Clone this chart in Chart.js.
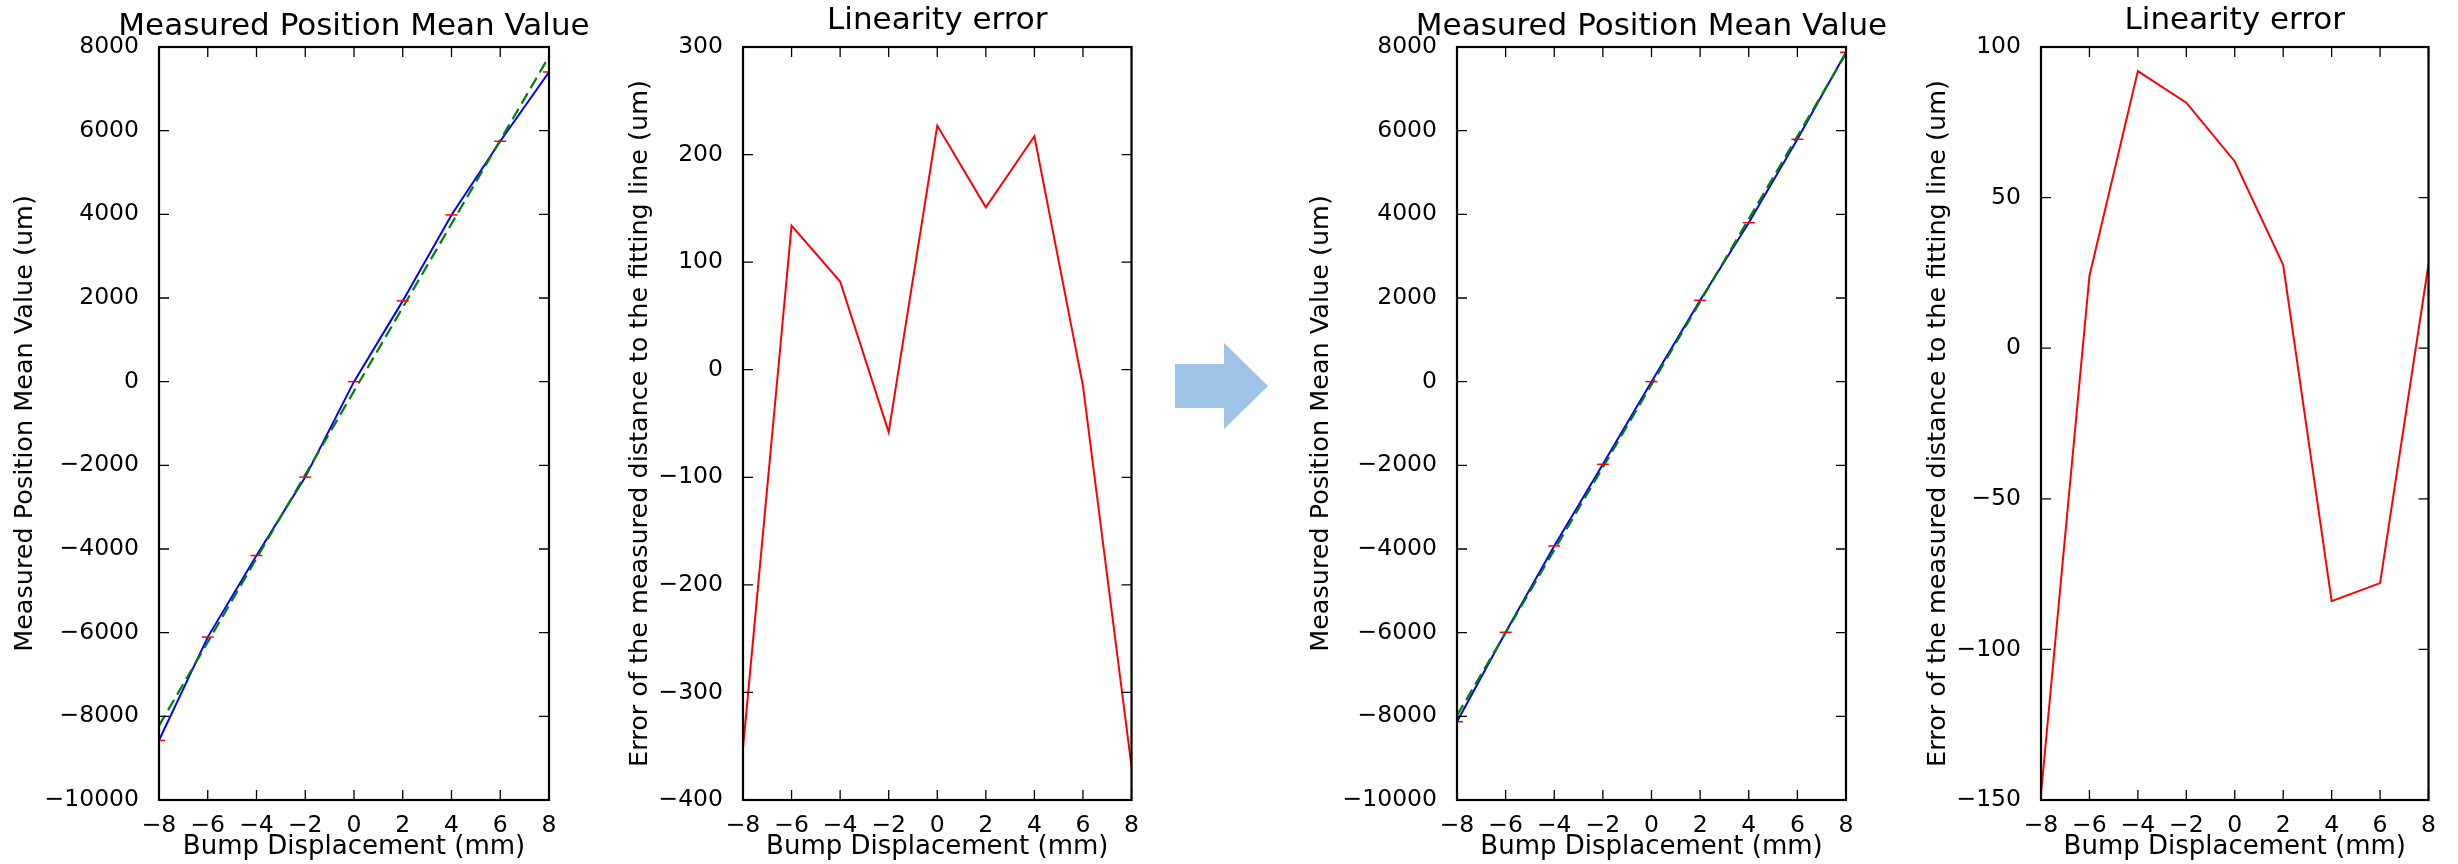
<!DOCTYPE html>
<html>
<head>
<meta charset="utf-8">
<script src="https://cdn.jsdelivr.net/npm/chart.js@4.4.0/dist/chart.umd.min.js"></script>
<style>
  body { margin: 0; background: #fff; width: 2458px; height: 864px; overflow: hidden; position: relative; }
  .panel { position: absolute; top: 0; }
  #arrow { position: absolute; left: 0; top: 0; }
</style>
</head>
<body>
<div class="panel" style="left:0px"><canvas id="posBefore" width="604" height="864"></canvas></div>
<div class="panel" style="left:615px"><canvas id="errBefore" width="528" height="864"></canvas></div>
<svg id="arrow" width="2458" height="864">
  <polygon points="1175,364 1224,364 1224,343 1268,386 1224,429 1224,408 1175,408" fill="#9dc3e6"/>
</svg>
<div class="panel" style="left:1296px"><canvas id="posAfter" width="600" height="864"></canvas></div>
<div class="panel" style="left:1912px"><canvas id="errAfter" width="528" height="864"></canvas></div>
<script>
// bump displacement (mm)
const displacement = [-8, -6, -4, -2, 0, 2, 4, 6, 8];

// before correction
const measuredBefore = [-8576, -6106, -4155, -2282, 0, 1931, 3986, 5747, 7403];
const fitEnds = [-8, 8];
const fitBefore = [-8224, 7772];
const errorBefore = [-352, 134, 82, -58, 227, 151, 217, -15, -369];

// after correction
const measuredAfter = [-8128, -5991, -3928, -1975, 0, 1945, 3800, 5793, 7873];
const fitAfter = [-7980, 7845];
const errorAfter = [-148, 24, 92, 81.5, 62, 27.6, -84, -78, 28];

const FONT = '"DejaVu Sans", sans-serif';

function pts(xs, ys) {
    return xs.map((x, i) => ({ x: x, y: ys[i] }));
}

function minus(v) {
    return String(v).replace('-', '\u2212');
}

// matplotlib-like box: frame, inward ticks on all sides, title over the axes
const frame = {
    id: 'frame',
    afterDatasetsDraw(chart, args, opts) {
        const { ctx, chartArea: a, scales: { x, y } } = chart;
        ctx.save();
        ctx.strokeStyle = '#000';
        ctx.lineWidth = 1.3;
        ctx.beginPath();
        x.ticks.forEach(t => {
            const px = x.getPixelForValue(t.value);
            ctx.moveTo(px, a.bottom); ctx.lineTo(px, a.bottom - 10);
            ctx.moveTo(px, a.top); ctx.lineTo(px, a.top + 10);
        });
        y.ticks.forEach(t => {
            const py = y.getPixelForValue(t.value);
            ctx.moveTo(a.left, py); ctx.lineTo(a.left + 10, py);
            ctx.moveTo(a.right, py); ctx.lineTo(a.right - 10, py);
        });
        ctx.stroke();
        ctx.lineWidth = 2.2;
        ctx.strokeRect(a.left, a.top, a.right - a.left, a.bottom - a.top);
        ctx.fillStyle = '#000';
        ctx.font = '31px ' + FONT;
        ctx.textAlign = 'center';
        ctx.textBaseline = 'alphabetic';
        ctx.fillText(opts.text, (a.left + a.right) / 2, opts.baseline);
        ctx.restore();
    }
};

function makeChart(id, datasets, cfg) {
    return new Chart(document.getElementById(id), {
        type: 'scatter',
        data: { datasets: datasets },
        plugins: [frame],
        options: {
            responsive: false,
            animation: false,
            devicePixelRatio: 1,
            layout: { padding: { left: 0, right: cfg.padRight, top: 47, bottom: 0 } },
            plugins: {
                legend: { display: false },
                tooltip: { enabled: false },
                frame: { text: cfg.title, baseline: cfg.titleBaseline }
            },
            scales: {
                x: {
                    type: 'linear',
                    min: -8, max: 8,
                    grid: { display: false },
                    border: { display: false },
                    ticks: { stepSize: 2, padding: 4, color: '#000', font: { family: FONT, size: 23.5 },
                             maxRotation: 0, autoSkip: false, callback: v => minus(v) },
                    title: { display: true, text: 'Bump Displacement (mm)', color: '#000',
                             font: { family: FONT, size: 26 }, padding: { top: 0, bottom: 1 } },
                    afterFit: s => { s.height = 64; }
                },
                y: {
                    type: 'linear',
                    min: cfg.yMin, max: cfg.yMax,
                    grid: { display: false },
                    border: { display: false },
                    ticks: { stepSize: cfg.yStep, padding: 12, color: '#000', font: { family: FONT, size: 23.5 },
                             autoSkip: false, callback: v => minus(v) },
                    title: { display: true, text: cfg.yTitle, color: '#000',
                             font: { family: FONT, size: 25.5 }, padding: { top: cfg.yTitlePad, bottom: 0 } },
                    afterFit: s => { s.width = cfg.yWidth; }
                }
            }
        }
    });
}

function positionSets(measured, fit) {
    return [
        { data: pts(displacement, measured), showLine: false, pointStyle: 'line', pointRadius: 6,
          borderColor: '#ff0000', borderWidth: 1.5, backgroundColor: '#ff0000' },
        { data: pts(fitEnds, fit), showLine: true, borderColor: '#008000', borderWidth: 2.2,
          borderDash: [12, 6], pointRadius: 0 },
        { data: pts(displacement, measured), showLine: true, borderColor: '#0000ff', borderWidth: 2,
          pointRadius: 0 }
    ];
}

function errorSets(err) {
    return [
        { data: pts(displacement, err), showLine: true, borderColor: '#ff0000', borderWidth: 2,
          pointRadius: 0 }
    ];
}

makeChart('posBefore', positionSets(measuredBefore, fitBefore), {
    yMin: -10000, yMax: 8000, yStep: 2000, yWidth: 159, yTitlePad: 10, padRight: 55,
    yTitle: 'Measured Position Mean Value (um)', title: 'Measured Position Mean Value', titleBaseline: 35
});
makeChart('errBefore', errorSets(errorBefore), {
    yMin: -400, yMax: 300, yStep: 100, yWidth: 128, yTitlePad: 10, padRight: 10,
    yTitle: 'Error of the measured distance to the fitting line (um)', title: 'Linearity error', titleBaseline: 29
});
makeChart('posAfter', positionSets(measuredAfter, fitAfter), {
    yMin: -10000, yMax: 8000, yStep: 2000, yWidth: 161, yTitlePad: 10, padRight: 50,
    yTitle: 'Measured Position Mean Value (um)', title: 'Measured Position Mean Value', titleBaseline: 35
});
makeChart('errAfter', errorSets(errorAfter), {
    yMin: -150, yMax: 100, yStep: 50, yWidth: 129, yTitlePad: 11, padRight: 10,
    yTitle: 'Error of the measured distance to the fitting line (um)', title: 'Linearity error', titleBaseline: 29
});
</script>
</body>
</html>
